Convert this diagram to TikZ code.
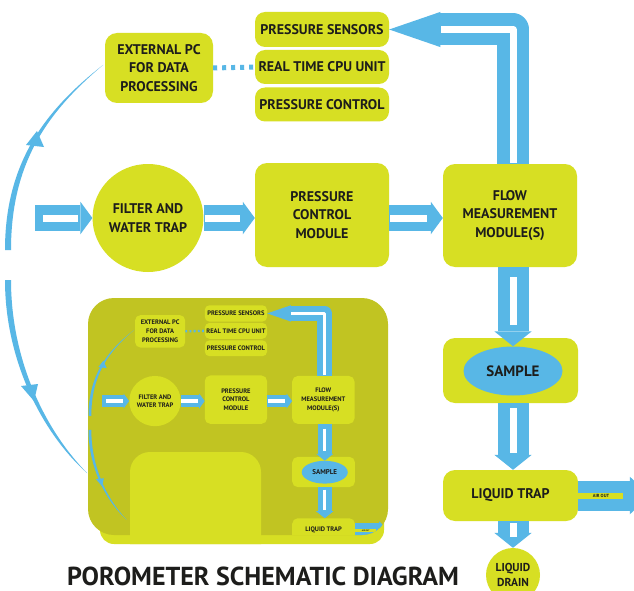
\documentclass[tikz,border=0pt]{standalone}
\usepackage{fontspec}
\setmainfont{PT Sans}
\usetikzlibrary{arrows.meta,shapes.geometric,calc}
\definecolor{clime}{HTML}{D7DF23}
\definecolor{cblue}{HTML}{58B7E6}
\definecolor{colive}{HTML}{C1C422}
\definecolor{ctext}{HTML}{1D1D1B}
\def\sfac{1}
\newif\ifmainpart
\mainparttrue
\tikzset{
  box/.style={fill=clime, rounded corners=\sfac*12pt, align=center, text=ctext,
    font=\fontsize{14}{18.5}\selectfont\bfseries, inner sep=0pt},
  roundbox/.style={fill=clime, sharp corners, align=center, text=ctext,
    font=\fontsize{14}{18.5}\selectfont\bfseries, inner sep=0pt},
  harrow/.style={draw=cblue, line width=\sfac*26pt,
    -{Triangle[width=0pt 1.25, length=0pt 0.46, line width=0pt]}},
  varrow/.style={draw=cblue, line width=\sfac*31pt,
    -{Triangle[width=0pt 1.2, length=0pt 0.48, line width=0pt]}},
  uarrow/.style={draw=cblue, line width=\sfac*32pt, line join=round,
    -{Triangle[width=0pt 1.1, length=0pt 1.6, line width=0pt]}},
  aarrow/.style={draw=cblue, line width=\sfac*30pt,
    -{Triangle[width=0pt 1.25, length=0pt 0.67, line width=0pt]}},
  hstripe/.style={draw=white, line width=\sfac*7pt},
}
\newcommand\porodiagram{%
  % nodes
  \node[box, minimum width=108, minimum height=70] (ext) at (159,68) {EXTERNAL PC\\FOR DATA\\PROCESSING};
  \node[box, rounded corners=\sfac*10pt, minimum width=134, minimum height=35] (ps) at (322,29.5) {PRESSURE SENSORS};
  \node[box, rounded corners=\sfac*10pt, minimum width=134, minimum height=34] (rt) at (322,67) {REAL TIME CPU UNIT};
  \node[box, rounded corners=\sfac*10pt, minimum width=134, minimum height=34] (pctl) at (322,104.5) {PRESSURE CONTROL};
  \node[roundbox, ellipse, minimum width=102, minimum height=108] (filter) at (148,218) {FILTER AND\\WATER TRAP};
  \node[box, minimum width=134, minimum height=104] (pcm) at (322,215) {PRESSURE\\CONTROL\\MODULE};
  \node[box, minimum width=134, minimum height=103] (flow) at (510,215.5) {FLOW\\MEASUREMENT\\MODULE(S)};
  \node[box, minimum width=135, minimum height=65] (sbox) at (510.5,370.5) {};
  \node[roundbox, ellipse, fill=cblue, minimum width=99, minimum height=49,
        font=\fontsize{15}{18}\selectfont\bfseries] (samp) at (513,371) {SAMPLE};
  \node[box, minimum width=135, minimum height=51] (trap) at (510.5,495.5) {LIQUID TRAP};
  \coordinate (inarr) at (35,218);
  \coordinate (airout) at (650,496);
  % dotted link
  \pgfmathsetlengthmacro\dOn{4pt*\sfac}%
  \pgfmathsetlengthmacro\dOff{5pt*\sfac}%
  \draw[draw=cblue, line width=\sfac*5pt, dash pattern=on \dOn off \dOff] (ext.east) -- (rt.west);
  % horizontal flow arrows
  \draw[harrow] (inarr) -- (inarr -| filter.west);
  \draw[hstripe, shorten <=\sfac*8pt, shorten >=\sfac*14pt] (inarr) -- (inarr -| filter.west);
  \draw[harrow] (filter.east) -- (filter.east -| pcm.west);
  \draw[hstripe, shorten <=\sfac*1pt, shorten >=\sfac*15pt] (filter.east) -- (filter.east -| pcm.west);
  \draw[harrow] (pcm.east |- filter.east) -- (flow.west |- filter.east);
  \draw[hstripe, shorten <=\sfac*1pt, shorten >=\sfac*16pt] (pcm.east |- filter.east) -- (flow.west |- filter.east);
  % up arrow to sensors
  \draw[uarrow] (flow.north -| samp.center) |- (ps.east);
  \draw[hstripe, line join=round, shorten <=\sfac*1pt, shorten >=\sfac*52pt] (flow.north -| samp.center) |- (ps.east);
  % down arrows
  \draw[varrow] (flow.south -| samp.center) -- (samp.north);
  \draw[hstripe, shorten <=\sfac*10pt, shorten >=\sfac*21pt] (flow.south -| samp.center) -- (samp.north);
  \draw[varrow] (sbox.south -| samp.center) -- (trap.north -| samp.center);
  \draw[hstripe, shorten <=\sfac*5pt, shorten >=\sfac*17pt] (sbox.south -| samp.center) -- (trap.north -| samp.center);
  \ifmainpart
    \node[roundbox, circle, minimum size=54, font=\fontsize{11.5}{14.5}\selectfont\bfseries] (drain) at (513,575) {LIQUID\\DRAIN};
    \draw[varrow] (trap.south -| drain.center) -- (drain.north);
    \draw[hstripe, shorten <=\sfac*2pt, shorten >=\sfac*11pt] (trap.south -| drain.center) -- (drain.north);
  \fi
  % air out
  \draw[aarrow] (trap.east) -- (trap.east -| airout);
  \draw[draw=clime, line width=\sfac*6pt, shorten >=\sfac*27pt] (trap.east) -- (trap.east -| airout);
  \node[font=\fontsize{4.5}{5}\selectfont\bfseries, text=ctext, inner sep=0pt] (airtxt) at (601,496) {AIR OUT};
  % curved feedback arcs
  \fill[cblue] (5,250) .. controls (5,160) and (48,108) .. (103,65) .. controls (50,110) and (11,160) .. (11,250) -- cycle;
  \fill[cblue] (37,131) -- (26,145) -- (44,147) -- cycle;
  \fill[cblue] (5,280) .. controls (5,360) and (42,433) .. (87,473) .. controls (45,430) and (11,360) .. (11,280) -- cycle;
  \fill[cblue] (34,401) -- (21,386) -- (38,384) -- cycle;
}
\begin{document}
\begin{tikzpicture}[x=1pt,y=-1pt]
  \fill[white] (0,0) rectangle (634,591);
  \useasboundingbox (0,0) rectangle (634,591);
  \porodiagram
  % inset (reduced copy)
  \fill[clime, rounded corners=14] (100,420) rectangle (384,544);
  \fill[colive, rounded corners=26] (88,298) rectangle (388,535);
  \begin{scope}
    \clip[rounded corners=26] (88,298) rectangle (388,535);
    \begin{scope}[shift={(86.2,299.7)}, scale=0.465, transform shape, name prefix=in-]
      \def\sfac{0.465}
      \mainpartfalse
      \porodiagram
    \end{scope}
  \end{scope}
  \fill[clime] (130,544) [rounded corners=20] -- (130,452) -- (261,452) [sharp corners] -- (261,544) -- cycle;
  % title
  \node[font=\fontsize{26}{30}\selectfont\bfseries, text=ctext, inner sep=0pt] (title) at (263,576) {POROMETER SCHEMATIC DIAGRAM};
\end{tikzpicture}
\end{document}
